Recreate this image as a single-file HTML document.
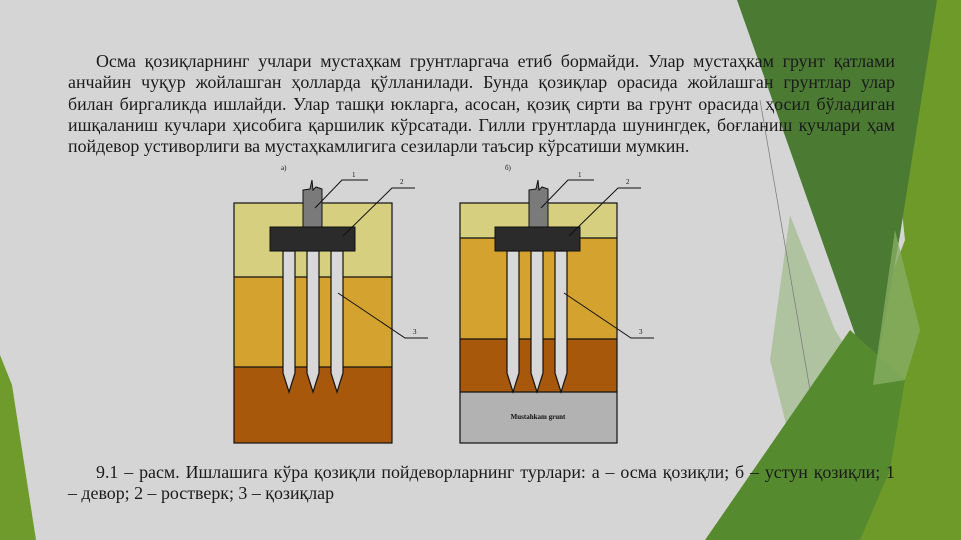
<!DOCTYPE html>
<html><head><meta charset="utf-8"><style>
html,body{margin:0;padding:0}
body{width:961px;height:540px;position:relative;overflow:hidden;background:#d5d5d5;font-family:"Liberation Serif",serif;color:#1a1a1a}
.p{position:absolute;left:68px;width:827px;font-size:17.9px;line-height:21.3px}
.p div{text-align:justify;text-align-last:justify;white-space:nowrap}
.p div.l{text-align-last:left}
.p div.i{padding-left:28px}
</style></head><body>
<svg width="961" height="540" style="position:absolute;left:0;top:0">
<polygon points="0,355 12,385 36,540 0,540" fill="#6f9a2c"/>
<polygon points="880,0 961,0 961,540 790,540 905,240" fill="#6e9a2a"/>
<polygon points="737,0 937,0 900,235 873,385" fill="#4b7a33"/>
<polygon points="790,215 835,330 870,385 790,440 770,360" fill="#a9bf98" opacity="0.85"/>
<polygon points="850,330 905,380 890,470 860,540 705,540" fill="#568a2e"/>
<polygon points="895,230 920,330 905,380 873,385" fill="#86ad63" opacity="0.8"/>
<line x1="760" y1="100" x2="810" y2="390" stroke="#777" stroke-width="0.7"/>
<rect x="234" y="203" width="158" height="74" fill="#d6cf80"/>
<rect x="234" y="277" width="158" height="90" fill="#d4a22e"/>
<rect x="234" y="367" width="158" height="76" fill="#a8580a"/>
<g fill="none" stroke="#111" stroke-width="1.2"><rect x="234" y="203" width="158" height="240"/><line x1="234" y1="277" x2="392" y2="277"/><line x1="234" y1="367" x2="392" y2="367"/></g>
<g fill="#d8d8d8" stroke="#111" stroke-width="1.2">
<polygon points="283,251 295,251 295,373 289,392 283,373"/>
<polygon points="307,251 319,251 319,373 313,392 307,373"/>
<polygon points="331,251 343,251 343,373 337,392 331,373"/></g>
<polygon points="303,190 310,189 312,180 313,190 316,187 322,189 322,227 303,227" fill="#7a7a7a" stroke="#111"/>
<rect x="270" y="227" width="85" height="24" fill="#2b2b2b" stroke="#111"/>
<g stroke="#111" stroke-width="1" fill="none">
<polyline points="315,208 342,180 368,180"/><polyline points="343,236 392,188 415,188"/><polyline points="338,293 405,338 428,338"/></g>
<rect x="460" y="203" width="157" height="35" fill="#d6cf80"/>
<rect x="460" y="238" width="157" height="101" fill="#d4a22e"/>
<rect x="460" y="339" width="157" height="53" fill="#a8580a"/>
<rect x="460" y="392" width="157" height="51" fill="#b2b2b2"/>
<g fill="none" stroke="#111" stroke-width="1.2"><rect x="460" y="203" width="157" height="240"/><line x1="460" y1="238" x2="617" y2="238"/><line x1="460" y1="339" x2="617" y2="339"/><line x1="460" y1="392" x2="617" y2="392"/></g>
<g fill="#d8d8d8" stroke="#111" stroke-width="1.2">
<polygon points="507,251 519,251 519,373 513,392 507,373"/>
<polygon points="531,251 543,251 543,373 537,392 531,373"/>
<polygon points="555,251 567,251 567,373 561,392 555,373"/></g>
<polygon points="529,190 536,189 538,180 539,190 542,187 548,189 548,227 529,227" fill="#7a7a7a" stroke="#111"/>
<rect x="495" y="227" width="85" height="24" fill="#2b2b2b" stroke="#111"/>
<g stroke="#111" stroke-width="1" fill="none">
<polyline points="541,208 568,180 594,180"/><polyline points="569,236 618,188 641,188"/><polyline points="564,293 631,338 654,338"/></g>
<g font-family="Liberation Serif,serif" font-size="7" fill="#111">
<text x="281" y="170">а)</text><text x="352" y="177">1</text><text x="400" y="184">2</text><text x="413" y="334">3</text>
<text x="505" y="170">б)</text><text x="578" y="177">1</text><text x="626" y="184">2</text><text x="639" y="334">3</text>
<text x="538" y="419" text-anchor="middle" font-weight="bold">Mustahkam grunt</text></g>
</svg>
<div class="p" style="top:51px">
<div class="i">Осма қозиқларнинг учлари мустаҳкам грунтларгача етиб бормайди. Улар мустаҳкам грунт қатлами</div>
<div>анчайин чуқур жойлашган ҳолларда қўлланилади. Бунда қозиқлар орасида жойлашган грунтлар улар</div>
<div>билан биргаликда ишлайди. Улар ташқи юкларга, асосан, қозиқ сирти ва грунт орасида ҳосил бўладиган</div>
<div>ишқаланиш кучлари ҳисобига қаршилик кўрсатади. Гилли грунтларда шунингдек, боғланиш кучлари ҳам</div>
<div class="l">пойдевор устиворлиги ва мустаҳкамлигига сезиларли таъсир кўрсатиши мумкин.</div>
</div>
<div class="p" style="top:462px">
<div class="i">9.1 – расм. Ишлашига кўра қозиқли пойдеворларнинг турлари: а – осма қозиқли; б – устун қозиқли; 1</div>
<div class="l">– девор; 2 – ростверк; 3 – қозиқлар</div>
</div>
</body></html>
